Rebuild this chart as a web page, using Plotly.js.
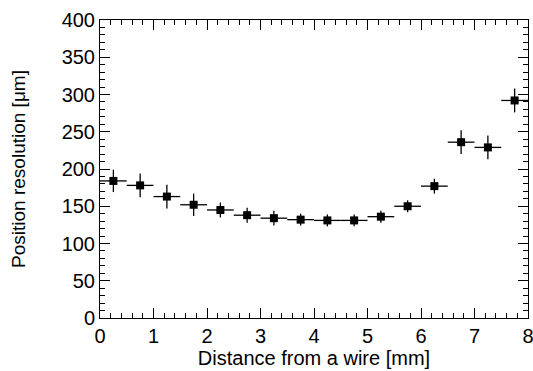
<!DOCTYPE html>
<html>
<head>
<meta charset="utf-8">
<script src="https://cdn.plot.ly/plotly-3.0.1.min.js"></script>
<style>html,body{margin:0;padding:0;background:#fff;}#chart{width:533px;height:371px;}</style>
</head>
<body>
<div id="chart"></div>
<script>
const distance = [0.25, 0.75, 1.25, 1.75, 2.25, 2.75, 3.25, 3.75, 4.25, 4.75, 5.25, 5.75, 6.25, 6.75, 7.25, 7.75];
const distanceErr = [0.25, 0.25, 0.25, 0.25, 0.25, 0.25, 0.25, 0.25, 0.25, 0.25, 0.25, 0.25, 0.25, 0.25, 0.25, 0.25];
const resolution = [184, 178, 163, 152, 145, 138, 134, 132, 131, 131, 136, 150, 177, 236, 229, 292];
const resolutionErr = [15, 16, 16, 15, 10, 10, 10, 8, 8, 8, 8, 8, 10, 16, 16, 16];

const font = {family: 'Liberation Sans, Arial, Helvetica, sans-serif', color: '#000'};

Plotly.newPlot('chart', [{
  type: 'scatter',
  mode: 'markers',
  x: distance,
  y: resolution,
  error_x: {type: 'data', array: distanceErr, visible: true, color: '#000', thickness: 1.3, width: 0},
  error_y: {type: 'data', array: resolutionErr, visible: true, color: '#000', thickness: 1.3, width: 0},
  marker: {symbol: 'square', size: 8, color: '#000'},
  showlegend: false
}], {
  width: 533, height: 371,
  margin: {l: 100, r: 5, t: 20, b: 53},
  paper_bgcolor: '#fff', plot_bgcolor: '#fff',
  font: Object.assign({size: 20}, font),
  xaxis: {
    range: [0, 8], dtick: 1, tick0: 0,
    ticks: 'inside', ticklen: 10, tickwidth: 1, tickcolor: '#000',
    showline: true, linecolor: '#000', linewidth: 1, mirror: 'allticks',
    showgrid: false, zeroline: false, ticklabeloverflow: 'allow',
    minor: {dtick: 0.2, ticks: 'inside', ticklen: 5, tickwidth: 1, tickcolor: '#000', showgrid: false},
    tickfont: Object.assign({size: 20}, font),
    title: {text: 'Distance from a wire [mm]', font: Object.assign({size: 20}, font), standoff: 4}
  },
  yaxis: {
    range: [0, 400], dtick: 50, tick0: 0,
    ticks: 'inside', ticklen: 10, tickwidth: 1, tickcolor: '#000',
    showline: true, linecolor: '#000', linewidth: 1, mirror: 'allticks',
    showgrid: false, zeroline: false, ticklabeloverflow: 'allow',
    minor: {dtick: 10, ticks: 'inside', ticklen: 5, tickwidth: 1, tickcolor: '#000', showgrid: false},
    tickfont: Object.assign({size: 20}, font),
    title: {text: 'Position resolution [μm]', font: Object.assign({size: 19}, font), standoff: 30}
  }
}, {displayModeBar: false, staticPlot: true});
</script>
</body>
</html>
